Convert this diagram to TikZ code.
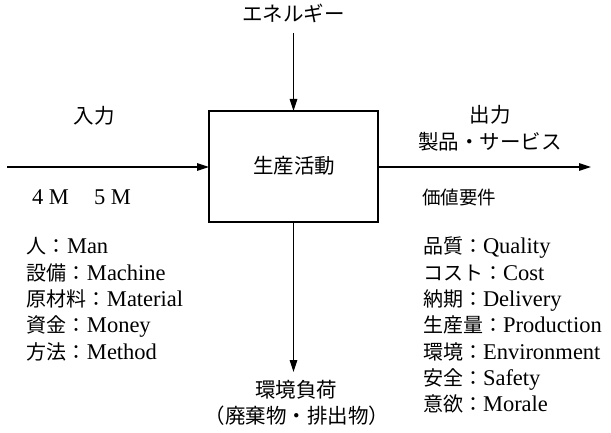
\documentclass[tikz,border=0pt]{standalone}
\usepackage{fontspec}
\setmainfont{Liberation Serif}
\newfontfamily\cjk{Noto Sans CJK JP}
\usetikzlibrary{arrows.meta}
\newcommand{\jl}{\fontsize{20}{24}\selectfont\cjk}
\begin{document}
\begin{tikzpicture}[x=1pt,y=-1pt,
  every node/.style={inner sep=0pt, outer sep=0pt},
  jp/.style={font=\fontsize{20.5}{24}\selectfont\cjk},
  lst/.style={anchor=base west, font=\fontsize{22.5}{26}\selectfont},
  arr/.style={line width=1.3pt, -{Triangle[length=12pt,width=7.5pt]}},
  boxst/.style={draw, line width=2pt, minimum width=169pt, minimum height=111pt}
]
\useasboundingbox (0,0) rectangle (611,433);

\node[boxst] (box) at (293.5,166.5) {};
\node[jp] (act) at (294,166) {生産活動};

% energy
\node[jp, anchor=base] (en) at (293.5,22) {エネルギー};
\coordinate (enS) at (293.5,33);
\draw[arr] (enS) -- (box.north);

% input
\coordinate (inS) at (7,167);
\draw[arr] (inS) -- (box.west |- inS);
\node[jp, anchor=base] (inlab) at (94,124) {入力};

% output
\coordinate (outE) at (591,167);
\draw[arr] (box.east |- outE) -- (outE);
\node[jp, anchor=base] (outlab) at (490,123) {出力};
\node[jp, anchor=base] (outlab2) at (490,150) {製品・サービス};

% down
\coordinate (dnE) at (293.5,372);
\draw[arr] (box.south) -- (dnE);
\node[jp, anchor=base] (env1) at (296,397) {環境負荷};
\node[jp, anchor=base] (env2) at (297,423) {（廃棄物・排出物）};

% left list
\node[lst] (m4) at (32,205) {4 M};
\node[lst] (m5) at (94,205) {5 M};
\node[lst] (l1) at (27,254) {{\jl 人：}Man};
\node[lst] (l2) at (27,280.3) {{\jl 設備：}Machine};
\node[lst] (l3) at (27,306.6) {{\jl 原材料：}Material};
\node[lst] (l4) at (27,332.9) {{\jl 資金：}Money};
\node[lst] (l5) at (27,359.2) {{\jl 方法：}Method};

% right list
\node[anchor=base west, font=\fontsize{18.5}{22}\selectfont\cjk] (val) at (422,205) {価値要件};
\node[lst] (r1) at (423,254) {{\jl 品質：}Quality};
\node[lst] (r2) at (423,280.3) {{\jl コスト：}Cost};
\node[lst] (r3) at (423,306.6) {{\jl 納期：}Delivery};
\node[lst] (r4) at (423,332.9) {{\jl 生産量：}Production};
\node[lst] (r5) at (423,359.2) {{\jl 環境：}Environment};
\node[lst] (r6) at (423,385.5) {{\jl 安全：}Safety};
\node[lst] (r7) at (423,411.8) {{\jl 意欲：}Morale};
\end{tikzpicture}
\end{document}
